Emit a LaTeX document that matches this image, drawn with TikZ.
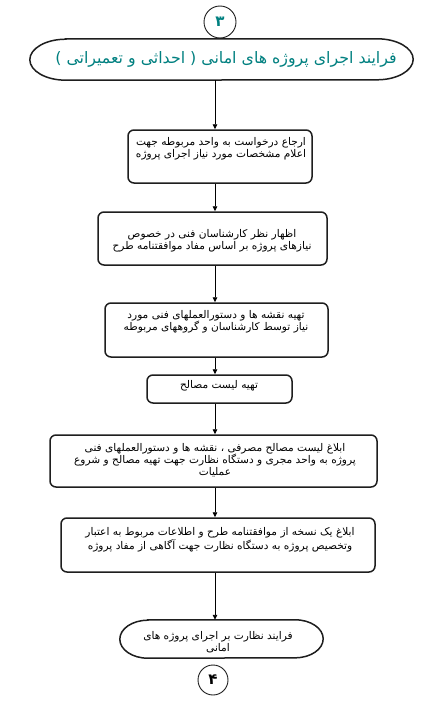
\documentclass[tikz,border=0pt]{standalone}
\usepackage{fontspec}
\usetikzlibrary{arrows.meta}
\TeXXeTstate=1
\newfontfamily\arabicfont[Script=Arabic]{DejaVu Sans}
\definecolor{tealtxt}{RGB}{0,128,128}
\definecolor{edge}{RGB}{30,30,30}
\tikzset{
  stepbox/.style={draw=edge, line width=1.5pt, rounded corners=6pt, fill=white, inner sep=0pt},
  termline/.style={draw=edge, line width=1.5pt},
  boxtext/.style={font=\arabicfont\fontsize{10.6}{12.2}\selectfont, align=center, inner sep=0pt, text=black},
  conn/.style={draw=black, line width=0.9pt, -{Triangle[length=5pt,width=4.5pt]}},
  numcircle/.style={circle, draw=edge, line width=0.9pt, inner sep=0pt},
}
\begin{document}
\begin{tikzpicture}[x=1pt,y=-1pt]
\useasboundingbox (0,0) rectangle (436,709);
\fill[white] (0,0) rectangle (436,709);
\coordinate (ax) at (215,0);

% connector circle 3
\node[numcircle, minimum size=32pt] (c3) at (220,22)
  {\arabicfont\bfseries\fontsize{15}{15}\selectfont\color{tealtxt}۳};

% title terminator
\node[minimum width=383pt, minimum height=41pt, inner sep=0pt] (title) at (221.5,59.5) {};
\draw[termline] ([xshift=36pt]title.north west) -- ([xshift=-36pt]title.north east)
  arc[start angle=90,end angle=-90,x radius=36pt,y radius=20.5pt]
  -- ([xshift=36pt]title.south west)
  arc[start angle=270,end angle=90,x radius=36pt,y radius=20.5pt] -- cycle;
\node[font=\arabicfont\fontsize{15.8}{18}\selectfont, text=tealtxt, inner sep=0pt] (ttitle) at (226,59)
  {\beginR فرایند اجرای پروژه های امانی ( احداثی و تعمیراتی  )\endR};

% boxes
\node[stepbox, minimum width=184pt, minimum height=53pt] (b1) at (220,156.5) {};
\node[stepbox, minimum width=229pt, minimum height=53pt] (b2) at (212.5,238.5) {};
\node[stepbox, minimum width=223pt, minimum height=54pt] (b3) at (216.5,330) {};
\node[stepbox, minimum width=145pt, minimum height=28pt] (b4) at (219.5,389) {};
\node[stepbox, minimum width=327pt, minimum height=52pt] (b5) at (213.5,461) {};
\node[stepbox, minimum width=314pt, minimum height=54pt] (b6) at (218,545) {};

\node[boxtext] (t1) at (221,149) {\beginR ارجاع درخواست به واحد مربوطه جهت\endR\\\beginR اعلام مشخصات مورد نیاز اجرای پروژه\endR};
\node[boxtext] (t2) at (212,241) {\beginR اظهار نظر کارشناسان فنی در خصوص\endR\\\beginR نیازهای پروژه بر اساس مفاد موافقتنامه طرح\endR};
\node[boxtext] (t3) at (216,322) {\beginR تهیه نقشه ها و دستورالعملهای فنی مورد\endR\\\beginR نیاز توسط کارشناسان و گروههای مربوطه\endR};
\node[boxtext] (t4) at (219,386) {\beginR تهیه لیست مصالح\endR};
\node[boxtext] (t5) at (215,460) {\beginR ابلاغ لیست مصالح مصرفی ، نقشه ها و دستورالعملهای فنی\endR\\\beginR پروژه به واحد مجری و دستگاه نظارت جهت تهیه مصالح و شروع\endR\\\beginR عملیات\endR};
\node[boxtext] (t6) at (220,540) {\beginR ابلاغ یک نسخه از موافقتنامه طرح و اطلاعات مربوط به اعتبار\endR\\\beginR وتخصیص پروژه به دستگاه نظارت جهت آگاهی از مفاد پروژه\endR};

% end terminator
\node[minimum width=203pt, minimum height=38pt, inner sep=0pt] (endt) at (221.5,639) {};
\draw[termline] ([xshift=28pt]endt.north west) -- ([xshift=-28pt]endt.north east)
  arc[start angle=90,end angle=-90,x radius=28pt,y radius=19pt]
  -- ([xshift=28pt]endt.south west)
  arc[start angle=270,end angle=90,x radius=28pt,y radius=19pt] -- cycle;
\node[boxtext] (tend) at (218,642) {\beginR فرایند نظارت بر اجرای پروژه های\endR\\\beginR امانی\endR};

\node[numcircle, minimum size=30pt] (c4) at (213,680)
  {\arabicfont\bfseries\fontsize{15}{15}\selectfont ۴};

% connectors
\draw[conn] (title.south -| ax) -- (b1.north -| ax);
\draw[conn] (b1.south -| ax) -- (b2.north -| ax);
\draw[conn] (b2.south -| ax) -- (b3.north -| ax);
\draw[conn] (b3.south -| ax) -- (b4.north -| ax);
\draw[conn] (b4.south -| ax) -- (b5.north -| ax);
\draw[conn] (b5.south -| ax) -- (b6.north -| ax);
\draw[conn] (b6.south -| ax) -- (endt.north -| ax);
\end{tikzpicture}
\end{document}
